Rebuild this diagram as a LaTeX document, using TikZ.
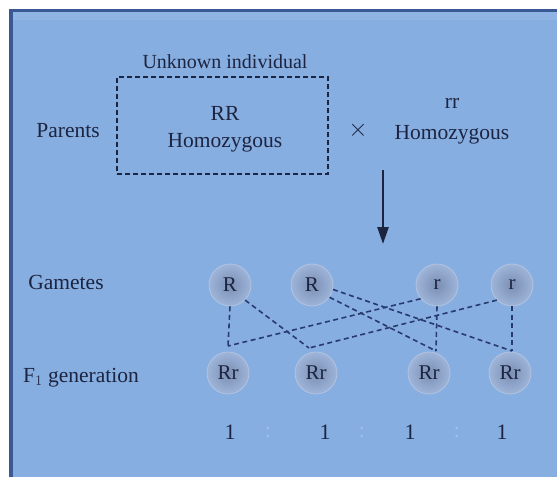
\documentclass[tikz,border=0pt]{standalone}
\usepackage{fontspec}
\setmainfont{Liberation Serif}
\usetikzlibrary{arrows.meta}
\definecolor{bg}{RGB}{135,174,225}
\definecolor{edgeblue}{RGB}{58,88,148}
\definecolor{ink}{RGB}{28,36,64}
\definecolor{dashc}{RGB}{40,58,110}
\definecolor{ballin}{RGB}{122,142,180}
\definecolor{ballout}{RGB}{158,180,216}
\definecolor{faint}{RGB}{165,190,232}
\tikzset{
  lbl/.style={text=ink, font=\fontsize{21.5}{25}\selectfont, inner sep=0pt},
  allele/.style={circle, minimum size=42pt, inner sep=0pt, inner color=ballin, outer color=ballout, draw=ballout!80!white, line width=0.8pt, text=ink, font=\fontsize{21}{24}\selectfont},
  cross/.style={draw=dashc, line width=1.6pt, dash pattern=on 5pt off 3.5pt},
  boxdash/.style={draw=ink, line width=1.8pt, dash pattern=on 5pt off 3pt},
  ratio/.style={text=ink, font=\fontsize{22}{24}\selectfont, inner sep=0pt},
  colon/.style={text=faint, font=\fontsize{22}{24}\selectfont, inner sep=0pt}
}
\begin{document}
\begin{tikzpicture}[x=1pt,y=-1pt]
\useasboundingbox (0,0) rectangle (557,477);
\fill[white] (0,0) rectangle (557,477);
\fill[bg] (9,9) rectangle (557,477);
\fill[bg!93!white] (13,12) rectangle (557,20);
\draw[edgeblue, line width=3pt] (9,10.5) -- (557,10.5);
\draw[edgeblue, line width=3.5pt] (10.8,9) -- (10.8,477);

% Parents row
\node[lbl, font=\fontsize{20}{24}\selectfont] (unk) at (225,62) {Unknown individual};
\node[boxdash, minimum width=211pt, minimum height=97pt, inner sep=0pt] (box) at (222.5,125.5) {};
\node[lbl] (RR) at (225,113) {RR};
\node[lbl] (homo1) at (225,143) {Homozygous};
\node[lbl] (parents) at (68,131) {Parents};
\node[lbl, font=\fontsize{26}{28}\selectfont] (times) at (358,130) {$\times$};
\node[lbl] (rr) at (452,103) {rr};
\node[lbl] (homo2) at (452,135) {Homozygous};

% arrow
\coordinate (as) at (383,170);
\coordinate (ae) at (383,244);
\draw[ink, line width=2.5pt, -{Triangle[length=17pt,width=11pt]}] (as) -- (ae);

% Labels
\node[lbl] (gam) at (66,282) {Gametes};
\node[lbl] (f1) at (81,378) {F$_1$ generation};

% Gametes
\node[allele] (R1) at (230,285) {R};
\node[allele] (R2) at (312,285) {R};
\node[allele] (r1) at (437,285) {r};
\node[allele] (r2) at (512,285) {r};

% F1
\node[allele] (F1) at (228,373) {Rr};
\node[allele] (F2) at (316,373) {Rr};
\node[allele] (F3) at (429,373) {Rr};
\node[allele] (F4) at (510,373) {Rr};

% junctions
\coordinate (j1) at (228,346);
\coordinate (j2) at (309,348);
\coordinate (j3) at (436,351);
\coordinate (j4) at (512,351);

\draw[cross] (R1.south) -- (j1);
\draw[cross] (r1.220) -- (j1);
\draw[cross] (R1.-45) -- (j2);
\draw[cross] (r2.225) -- (j2);
\draw[cross] (R2.-35) -- (j3);
\draw[cross] (r1.south) -- (j3);
\draw[cross] (R2.-12) -- (j4);
\draw[cross] (r2.south) -- (j4);

% ratio
\node[ratio] (n1) at (230,432) {1};
\node[colon] (c1) at (268,432) {:};
\node[ratio] (n2) at (325,432) {1};
\node[colon] (c2) at (362,432) {:};
\node[ratio] (n3) at (410,432) {1};
\node[colon] (c3) at (457,432) {:};
\node[ratio] (n4) at (502,432) {1};
\end{tikzpicture}
\end{document}
